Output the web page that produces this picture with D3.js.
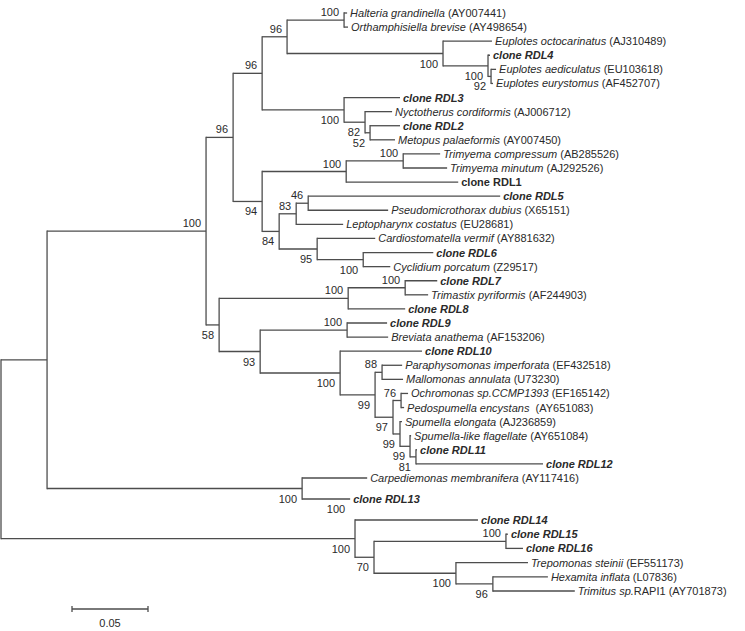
<!DOCTYPE html>
<html><head><meta charset="utf-8">
<script src="https://cdn.jsdelivr.net/npm/d3@7"></script>
<style>body{margin:0;background:#fff}</style>
</head><body>
<svg id="c" width="745" height="631"></svg>
<script>
// [node, parent, branch length (subst./site), bootstrap]
const branches = [
 ["root","",0,null],
 ["A","root",0.0303,null],
 ["B","A",0.1046,100],
 ["C","B",0.0178,96],
 ["D","C",0.0191,96],
 ["E","D",0.0164,96],
 ["HN","E",0.0375,100],
 ["Halteria","HN",0.0020,null],
 ["Orthamphisiella","HN",0.0026,null],
 ["EU","E",0.1026,100],
 ["Eoct","EU",0.0322,null],
 ["EU2","EU",0.0296,100],
 ["RDL4","EU2",0.0013,null],
 ["EU3","EU2",0.0020,92],
 ["Eaed","EU3",0.0033,null],
 ["Eeur","EU3",0.0013,null],
 ["NC","D",0.0539,100],
 ["RDL3","NC",0.0368,null],
 ["NC2","NC",0.0138,82],
 ["Nyct","NC2",0.0178,null],
 ["NC3","NC2",0.0033,52],
 ["RDL2","NC3",0.0197,null],
 ["Metopus","NC3",0.0164,null],
 ["G","C",0.0191,94],
 ["H","G",0.0553,100],
 ["I","H",0.0375,100],
 ["Tcomp","I",0.0243,null],
 ["Tmin","I",0.0289,null],
 ["RDL1","H",0.0737,null],
 ["J","G",0.0112,84],
 ["K","J",0.0112,83],
 ["L","K",0.0079,46],
 ["RDL5","L",0.1263,null],
 ["Pseudo","L",0.0526,null],
 ["Lepto","K",0.0309,null],
 ["M","J",0.0250,95],
 ["Cardio","M",0.0382,null],
 ["N","M",0.0303,100],
 ["RDL6","N",0.0461,null],
 ["Cyclid","N",0.0178,null],
 ["F","B",0.0086,58],
 ["O","F",0.0849,100],
 ["P","O",0.0375,100],
 ["RDL7","P",0.0211,null],
 ["Trimastix","P",0.0151,null],
 ["RDL8","O",0.0375,null],
 ["Q","F",0.0270,93],
 ["R2","Q",0.0572,100],
 ["RDL9","R2",0.0263,null],
 ["Breviata","R2",0.0270,null],
 ["S","Q",0.0526,100],
 ["RDL10","S",0.0539,null],
 ["T","S",0.0230,99],
 ["U","T",0.0046,88],
 ["Paraph","U",0.0132,null],
 ["Mallo","U",0.0138,null],
 ["V","T",0.0118,97],
 ["W","V",0.0053,76],
 ["Ochro","W",0.0046,null],
 ["Pedo","W",0.0020,null],
 ["X","V",0.0046,99],
 ["Spelong","X",0.0013,null],
 ["Z","X",0.0066,99],
 ["Splike","Z",0.0007,null],
 ["AA","Z",0.0039,81],
 ["RDL11","AA",0.0007,null],
 ["RDL12","AA",0.0836,null],
 ["CA","A",0.1678,100],
 ["Carpe","CA",0.0428,null],
 ["RDL13","CA",0.0316,100],
 ["DP","root",0.2329,100],
 ["RDL14","DP",0.0809,null],
 ["DP2","DP",0.0125,70],
 ["DP3","DP2",0.0868,100],
 ["RDL15","DP3",0.0013,null],
 ["RDL16","DP3",0.0112,null],
 ["DP4","DP2",0.0539,100],
 ["Trepo","DP4",0.0474,null],
 ["DP5","DP4",0.0243,96],
 ["Hexa","DP5",0.0362,null],
 ["Trimitus","DP5",0.0539,null]
];

// [node, taxon name, accession, style: i = italic, b = bold italic clone, B = bold upright clone]
const tips = [
 ["Halteria","Halteria grandinella"," (AY007441)","i"],
 ["Orthamphisiella","Orthamphisiella brevise"," (AY498654)","i"],
 ["Eoct","Euplotes octocarinatus"," (AJ310489)","i"],
 ["RDL4","clone RDL4","","b"],
 ["Eaed","Euplotes aediculatus"," (EU103618)","i"],
 ["Eeur","Euplotes eurystomus"," (AF452707)","i"],
 ["RDL3","clone RDL3","","b"],
 ["Nyct","Nyctotherus cordiformis"," (AJ006712)","i"],
 ["RDL2","clone RDL2","","b"],
 ["Metopus","Metopus palaeformis"," (AY007450)","i"],
 ["Tcomp","Trimyema compressum"," (AB285526)","i"],
 ["Tmin","Trimyema minutum"," (AJ292526)","i"],
 ["RDL1","clone RDL1","","B"],
 ["RDL5","clone RDL5","","b"],
 ["Pseudo","Pseudomicrothorax dubius"," (X65151)","i"],
 ["Lepto","Leptopharynx costatus"," (EU28681)","i"],
 ["Cardio","Cardiostomatella vermif"," (AY881632)","i"],
 ["RDL6","clone RDL6","","b"],
 ["Cyclid","Cyclidium porcatum"," (Z29517)","i"],
 ["RDL7","clone RDL7","","b"],
 ["Trimastix","Trimastix pyriformis"," (AF244903)","i"],
 ["RDL8","clone RDL8","","b"],
 ["RDL9","clone RDL9","","b"],
 ["Breviata","Breviata anathema"," (AF153206)","i"],
 ["RDL10","clone RDL10","","b"],
 ["Paraph","Paraphysomonas imperforata"," (EF432518)","i"],
 ["Mallo","Mallomonas annulata"," (U73230)","i"],
 ["Ochro","Ochromonas sp.CCMP1393"," (EF165142)","i"],
 ["Pedo","Pedospumella encystans","\u00a0 (AY651083)","i"],
 ["Spelong","Spumella elongata"," (AJ236859)","i"],
 ["Splike","Spumella-like flagellate"," (AY651084)","i"],
 ["RDL11","clone RDL11","","b"],
 ["RDL12","clone RDL12","","b"],
 ["Carpe","Carpediemonas membranifera"," (AY117416)","i"],
 ["RDL13","clone RDL13","","b"],
 ["RDL14","clone RDL14","","b"],
 ["RDL15","clone RDL15","","b"],
 ["RDL16","clone RDL16","","b"],
 ["Trepo","Trepomonas steinii"," (EF551173)","i"],
 ["Hexa","Hexamita inflata"," (L07836)","i"],
 ["Trimitus","Trimitus sp.","RAPI1 (AY701873)","i"]
];

const scaleBarValue = 0.05;
const scaleBarLabel = "0.05";

// ---------- layout ----------
const svg = d3.select("#c");
const FONT = "'Liberation Sans', Arial, Helvetica, sans-serif";
const lineColor = "#4d4d4d";
const textColor = "#2a2a2a";

const root = d3.stratify()
  .id(d => d[0])
  .parentId(d => d[1] || null)(branches);

root.eachBefore(n => { n.dist = n.parent ? n.parent.dist + n.data[2] : 0; });

const x = d3.scaleLinear().domain([0, 0.05]).range([1, 77]);
const leaves = root.leaves();
const yLeaf = d3.scaleLinear().domain([0, 33, 35, leaves.length - 1]).range([13, 478, 520, 591]);
leaves.forEach((l, i) => { l.y = yLeaf(i); });
root.eachAfter(n => {
  if (n.children) n.y = (n.children[0].y + n.children[n.children.length - 1].y) / 2;
});

const g = svg.append("g");
// horizontal branches
g.selectAll("line.h").data(root.descendants().filter(n => n.parent))
  .join("line")
  .attr("x1", n => x(n.parent.dist)).attr("x2", n => x(n.dist))
  .attr("y1", n => n.y).attr("y2", n => n.y)
  .attr("stroke", lineColor).attr("stroke-width", 1.3);
// vertical connectors
g.selectAll("line.v").data(root.descendants().filter(n => n.children))
  .join("line")
  .attr("x1", n => x(n.dist)).attr("x2", n => x(n.dist))
  .attr("y1", n => n.children[0].y - 0.65).attr("y2", n => n.children[n.children.length - 1].y + 0.65)
  .attr("stroke", lineColor).attr("stroke-width", 1.3);

// bootstrap values
g.selectAll("text.bs").data(root.descendants().filter(n => n.data[3] != null))
  .join("text")
  .attr("x", n => x(n.dist) - 5)
  .attr("y", n => {
    const upper = n.parent.children[0] === n;
    return upper ? n.y - 4 : n.y + 14;
  })
  .attr("text-anchor", "end")
  .attr("font-family", FONT).attr("font-size", 11).attr("fill", textColor)
  .text(n => String(n.data[3]));

// tip labels
const tipMap = new Map(tips.map(t => [t[0], t]));
const lab = g.selectAll("text.tip").data(leaves)
  .join("text")
  .attr("x", n => x(n.dist) + 3)
  .attr("y", n => n.y + 4)
  .attr("font-family", FONT).attr("font-size", 11).attr("fill", textColor);
lab.each(function(n) {
  const t = tipMap.get(n.id);
  const el = d3.select(this);
  el.append("tspan").text(t[1])
    .attr("font-style", t[3] === "B" ? "normal" : "italic")
    .attr("font-weight", t[3] === "i" ? "normal" : "bold");
  if (t[2]) el.append("tspan").text(t[2]).attr("font-style", "normal");
});

// scale bar
const sb = svg.append("g");
const sx0 = 72, sy = 609;
const sLen = x(scaleBarValue) - x(0);
sb.append("line").attr("x1", sx0).attr("x2", sx0 + sLen).attr("y1", sy).attr("y2", sy)
  .attr("stroke", lineColor).attr("stroke-width", 1.3);
[sx0, sx0 + sLen].forEach(v => sb.append("line").attr("x1", v).attr("x2", v)
  .attr("y1", sy - 3).attr("y2", sy + 3).attr("stroke", lineColor).attr("stroke-width", 1.3));
sb.append("text").attr("x", sx0 + sLen / 2).attr("y", sy + 18).attr("text-anchor", "middle")
  .attr("font-family", FONT).attr("font-size", 11).attr("fill", textColor).text(scaleBarLabel);
</script>
</body></html>
